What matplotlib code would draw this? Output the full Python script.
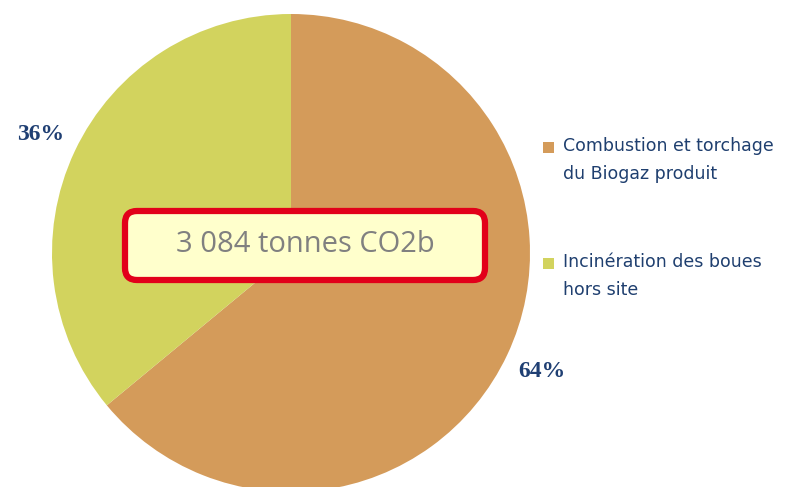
import matplotlib.pyplot as plt
from matplotlib.patches import FancyBboxPatch, Rectangle

# parts du bilan (%)
labels = ['Combustion et torchage\ndu Biogaz produit', 'Incinération des boues\nhors site']
parts = [64, 36]
colors = ['#D49B5A', '#D2D35E']
total_txt = '3 084 tonnes CO2b'

fig = plt.figure(figsize=(7.85, 4.87), dpi=100)
ax = fig.add_axes([0, 0, 1, 1])

wedges, texts = ax.pie(parts, colors=colors, startangle=90, counterclock=False,
                       center=(291, 234), radius=239, frame=True,
                       labels=['%d%%' % p for p in parts], labeldistance=1.16,
                       textprops=dict(ha='center', va='center', color='#1F3F73',
                                      family='Liberation Serif', weight='bold', fontsize=17))
ax.set_xlim(0, 785)
ax.set_ylim(0, 487)
ax.set_aspect('equal')
ax.axis('off')

# legende faite a la main : carre aligne sur la 1re ligne
for i, (lab, col) in enumerate(zip(labels, colors)):
    y = 340 - i * 116
    ax.add_patch(Rectangle((543, y - 5.5), 11, 11, facecolor=col, edgecolor='none'))
    ax.text(563, y + 10, lab, ha='left', va='top', fontsize=12.5, family='DejaVu Sans',
            color='#1F3F6F', linespacing=1.72)

box = FancyBboxPatch((125, 207), 360, 69, boxstyle='round,pad=0,rounding_size=12',
                     facecolor='#FFFFCC', edgecolor='#E2001A', linewidth=4.5, zorder=5)
ax.add_patch(box)
ax.text(305, 242, total_txt, ha='center', va='center', fontsize=21,
        family='Open Sans', color='#808080', zorder=6)

fig.savefig('out.png', dpi=100)
